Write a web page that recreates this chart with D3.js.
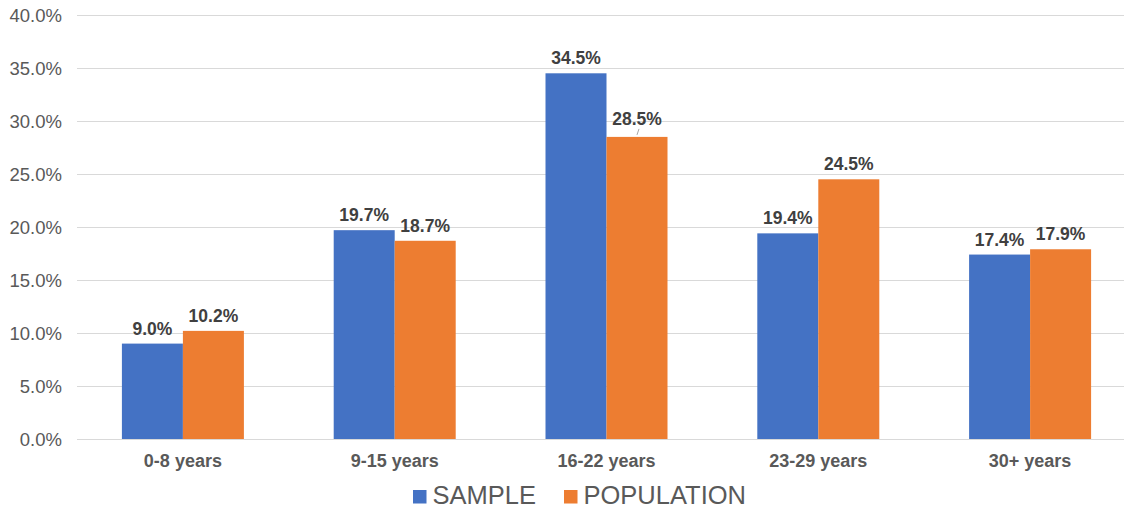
<!DOCTYPE html>
<html>
<head>
<meta charset="utf-8">
<script src="https://cdn.jsdelivr.net/npm/d3@7"></script>
<style>
  html, body { margin: 0; padding: 0; background: #fff; }
  svg { display: block; font-family: "Liberation Sans", Arial, sans-serif; }
</style>
</head>
<body>
<svg id="chart" width="1124" height="510"></svg>
<script>
// Age bands and the share of each group in the sample vs. the population
const categories = ["0-8 years", "9-15 years", "16-22 years", "23-29 years", "30+ years"];
const seriesNames = ["SAMPLE", "POPULATION"];
const sampleValues = [9.0, 19.7, 34.5, 19.4, 17.4];
const populationValues = [10.2, 18.7, 28.5, 24.5, 17.9];
const yTicks = [0, 5, 10, 15, 20, 25, 30, 35, 40];

const colors = { SAMPLE: "#4472C4", POPULATION: "#ED7D31" };
const seriesValues = { SAMPLE: sampleValues, POPULATION: populationValues };

const svg = d3.select("#chart");
const plot = { left: 77, right: 1136, top: 15, bottom: 439 };

const x0 = d3.scaleBand()
  .domain(categories)
  .range([plot.left, plot.right])
  .paddingInner(0.424)
  .paddingOuter(0.212);

const x1 = d3.scaleBand()
  .domain(seriesNames)
  .range([0, x0.bandwidth()])
  .padding(0);

const y = d3.scaleLinear()
  .domain([0, 40])
  .range([plot.bottom, plot.top]);

// Horizontal gridlines
svg.append("g")
  .selectAll("line")
  .data(yTicks)
  .join("line")
  .attr("x1", plot.left)
  .attr("x2", 1124)
  .attr("y1", d => Math.round(y(d)) + 0.5)
  .attr("y2", d => Math.round(y(d)) + 0.5)
  .attr("stroke", "#d9d9d9")
  .attr("stroke-width", 1);

// Y-axis tick labels
svg.append("g")
  .selectAll("text")
  .data(yTicks)
  .join("text")
  .attr("x", 62)
  .attr("y", d => y(d))
  .attr("dy", "0.36em")
  .attr("text-anchor", "end")
  .attr("font-size", 18.5)
  .attr("fill", "#595959")
  .text(d => d.toFixed(1) + "%");

// Bars
const rows = categories.map((c, i) => ({
  category: c,
  items: seriesNames.map(s => ({ series: s, value: seriesValues[s][i] }))
}));

const groups = svg.append("g")
  .selectAll("g")
  .data(rows)
  .join("g")
  .attr("transform", d => `translate(${x0(d.category)},0)`);

groups.selectAll("rect")
  .data(d => d.items)
  .join("rect")
  .attr("x", d => x1(d.series))
  .attr("width", x1.bandwidth())
  .attr("y", d => y(d.value))
  .attr("height", d => y(0) - y(d.value))
  .attr("fill", d => colors[d.series]);

// Value labels; the 16-22 population label sits a little higher with a leader line
const labelLift = (cat, s) => (cat === "16-22 years" && s === "POPULATION") ? 12 : 9;

groups.selectAll("text.val")
  .data(d => d.items.map(it => ({ ...it, category: d.category })))
  .join("text")
  .attr("class", "val")
  .attr("x", d => x1(d.series) + x1.bandwidth() / 2)
  .attr("y", d => y(d.value) - labelLift(d.category, d.series))
  .attr("text-anchor", "middle")
  .attr("font-size", 17.5)
  .attr("font-weight", "bold")
  .attr("fill", "#404040")
  .text(d => d.value.toFixed(1) + "%");

groups.filter(d => d.category === "16-22 years")
  .append("line")
  .attr("x1", x1("POPULATION") + x1.bandwidth() / 2 + 2)
  .attr("x2", x1("POPULATION") + x1.bandwidth() / 2)
  .attr("y1", y(populationValues[2]) - 8)
  .attr("y2", y(populationValues[2]) - 2)
  .attr("stroke", "#a6a6a6")
  .attr("stroke-width", 1);

// Category labels
svg.append("g")
  .selectAll("text")
  .data(categories)
  .join("text")
  .attr("x", d => x0(d) + x0.bandwidth() / 2)
  .attr("y", 467)
  .attr("text-anchor", "middle")
  .attr("font-size", 18)
  .attr("font-weight", "bold")
  .attr("fill", "#595959")
  .text(d => d);

// Legend
const legendItems = [
  { name: "SAMPLE", x: 413 },
  { name: "POPULATION", x: 564 }
];
const legend = svg.append("g")
  .selectAll("g")
  .data(legendItems)
  .join("g")
  .attr("transform", d => `translate(${d.x},0)`);

legend.append("rect")
  .attr("x", 0)
  .attr("y", 490)
  .attr("width", 13.5)
  .attr("height", 13.5)
  .attr("fill", d => colors[d.name]);

legend.append("text")
  .attr("x", 19.5)
  .attr("y", 503.5)
  .attr("font-size", 25.5)
  .attr("fill", "#595959")
  .text(d => d.name);
</script>
</body>
</html>
